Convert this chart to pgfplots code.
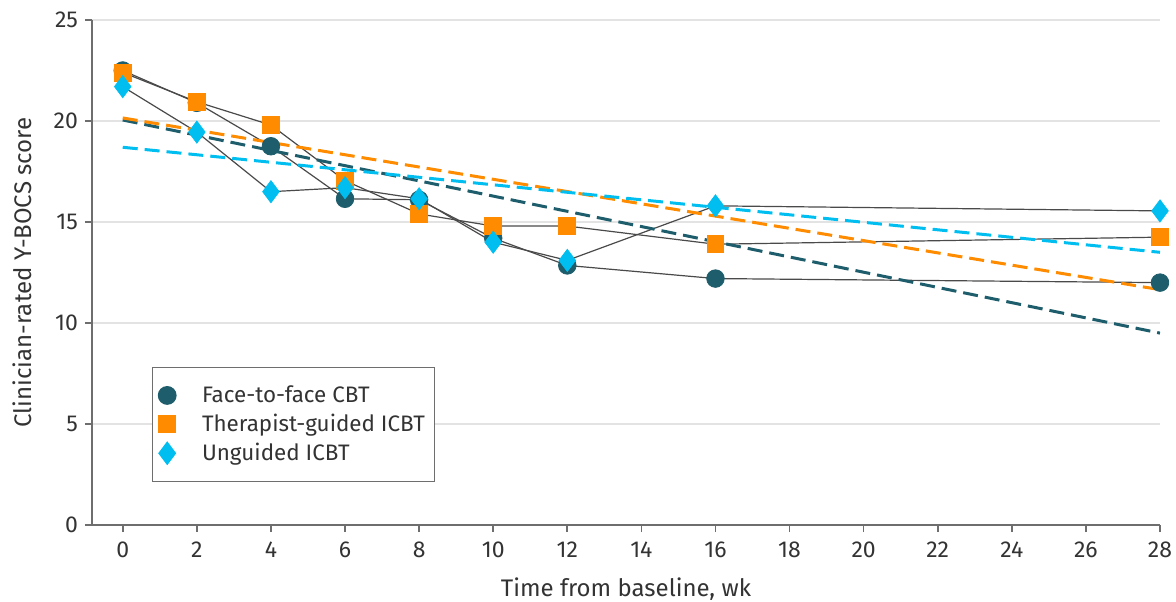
\documentclass[border=0pt]{standalone}
\usepackage{pgfplots}
\pgfplotsset{compat=1.18}
\usepackage{fontspec}
\setmainfont{Fira Sans}
\definecolor{tealc}{HTML}{1E5D6B}
\definecolor{orng}{HTML}{FF8C00}
\definecolor{cyn}{HTML}{00BFF0}
\definecolor{txt}{HTML}{333333}
\definecolor{axl}{HTML}{6E6E6E}
\definecolor{grd}{HTML}{E3E3E3}
\definecolor{lin}{HTML}{4A4A4A}
\begin{document}
\begin{tikzpicture}
\path[use as bounding box] (0,0) rectangle (588pt,300.5pt);
\begin{axis}[
  at={(46pt,38pt)}, anchor=south west,
  width=534pt, height=252.5pt, scale only axis,
  xmin=-0.83, xmax=28, ymin=0, ymax=25,
  xtick={0,2,...,28}, ytick={0,5,...,25},
  axis x line=bottom, axis y line=left,
  axis line style={draw=axl, line width=0.8pt, -},
  ymajorgrids, grid style={grd, line width=1pt},
  tick align=outside, major tick length=3.5pt,
  tick style={axl, line width=0.8pt},
  /pgf/number format/assume math mode=true,
  tick label style={font=\fontsize{11.5}{13}\selectfont, text=txt},
  xticklabel style={yshift=-1.5pt},
  label style={font=\fontsize{12}{14}\selectfont, text=txt},
  xlabel={Time from baseline, wk},
  xlabel style={yshift=-3pt},
  ylabel={Clinician-rated Y-BOCS score},
  ylabel style={yshift=4pt},
  legend cell align=left,
  legend style={at={(0.056,0.313)}, anchor=north west, draw=axl, line width=0.6pt,
    font=\fontsize{11.2}{13}\selectfont, text=txt, inner xsep=3pt, inner ysep=7pt,
    row sep=0.3pt},
]
% connecting lines
\addplot[lin, line width=0.6pt, forget plot] coordinates {(0,22.5)(2,20.9)(4,18.75)(6,16.15)(8,16.1)(10,14.2)(12,12.85)(16,12.2)(28,12.0)};
\addplot[lin, line width=0.6pt, forget plot] coordinates {(0,22.4)(2,20.95)(4,19.8)(6,17.05)(8,15.4)(10,14.8)(12,14.8)(16,13.9)(28,14.25)};
\addplot[lin, line width=0.6pt, forget plot] coordinates {(0,21.7)(2,19.45)(4,16.5)(6,16.7)(8,16.15)(10,14.0)(12,13.1)(16,15.8)(28,15.55)};
% markers
\addplot[only marks, color=tealc, mark=*, mark size=4.4pt] coordinates {(0,22.5)(2,20.9)(4,18.75)(6,16.15)(8,16.1)(10,14.2)(12,12.85)(16,12.2)(28,12.0)};
\addlegendentry{\hspace{11pt}Face-to-face CBT}
\addplot[only marks, color=orng, mark=square*, mark size=4.2pt] coordinates {(0,22.4)(2,20.95)(4,19.8)(6,17.05)(8,15.4)(10,14.8)(12,14.8)(16,13.9)(28,14.25)};
\addlegendentry{\hspace{11pt}Therapist-guided ICBT}
\addplot[only marks, color=cyn, mark=diamond*, mark size=5.5pt] coordinates {(0,21.7)(2,19.45)(4,16.5)(6,16.7)(8,16.15)(10,14.0)(12,13.1)(16,15.8)(28,15.55)};
\addlegendentry{\hspace{11pt}Unguided ICBT}
% trend lines
\addplot[tealc, line width=1.5pt, dash pattern=on 7.5pt off 3.5pt, forget plot] coordinates {(0,20.05)(28,9.5)};
\addplot[orng, line width=1.5pt, dash pattern=on 7.5pt off 3.5pt, forget plot] coordinates {(0,20.15)(28,11.65)};
\addplot[cyn, line width=1.5pt, dash pattern=on 7.5pt off 3.5pt, forget plot] coordinates {(0,18.7)(28,13.5)};
\end{axis}
\end{tikzpicture}
\end{document}
